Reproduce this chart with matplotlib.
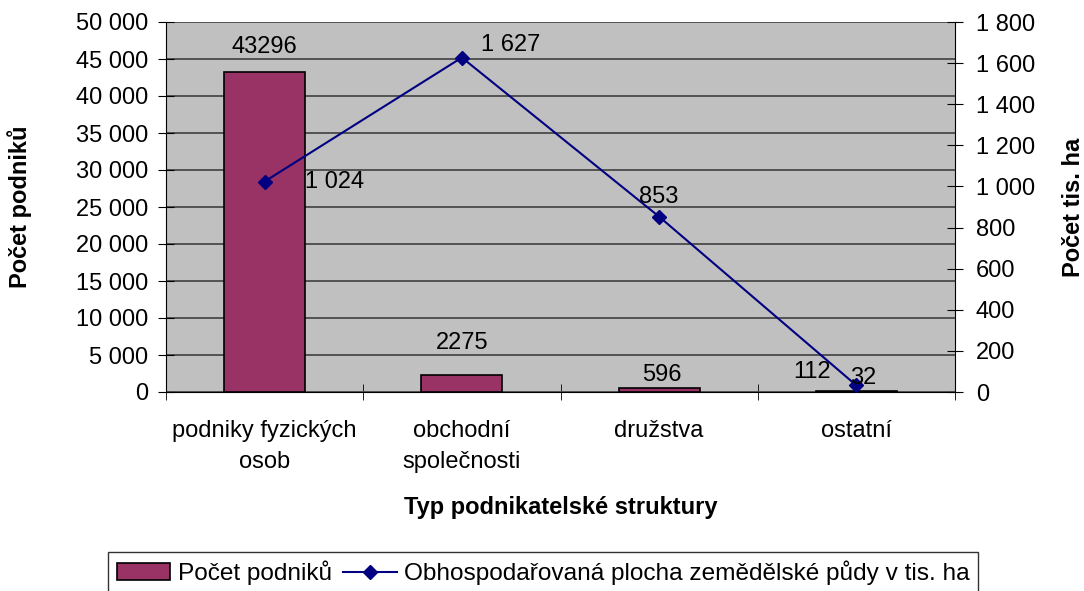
import matplotlib.pyplot as plt
from matplotlib.ticker import FuncFormatter
import numpy as np

plt.rcParams['font.family'] = ['Liberation Sans', 'DejaVu Sans']

# Data
categories = ['podniky fyzických\nosob', 'obchodní\nspolečnosti', 'družstva', 'ostatní']
podniky = [43296, 2275, 596, 112]
plocha = [1024, 1627, 853, 32]
plocha_labels = ['1 024', '1 627', '853', '32']

FS = 17

def space_fmt(v, pos):
    return '{:,}'.format(int(v)).replace(',', ' ')

fig = plt.figure(figsize=(10.84, 5.91), dpi=100)
ax = fig.add_axes([166 / 1084, 1 - 392 / 591, (955 - 166) / 1084, (392 - 22) / 591])
ax.set_facecolor('#c0c0c0')

x = np.arange(len(categories))
bars = ax.bar(x, podniky, width=0.41, color='#993366', edgecolor='black', linewidth=1.2,
              label='Počet podniků', zorder=3)
# bar labels (offsets in points, as placed in the original)
bar_off = [(0, 9.5), (0, 15), (2, 1.5), (-32, 6)]
for xi, v, off in zip(x, podniky, bar_off):
    ax.annotate(str(v), (xi, v), xytext=off, textcoords='offset points',
                ha='center', va='bottom', fontsize=FS)

ax.set_xlim(-0.5, len(categories) - 0.5)
ax.set_ylim(0, 50000)
ax.set_yticks(np.arange(0, 50001, 5000))
ax.yaxis.set_major_formatter(FuncFormatter(space_fmt))
ax.grid(axis='y', color='#4a4a4a', linewidth=1.3, zorder=0)
ax.set_axisbelow(True)
ax.set_xticks(x)
ax.set_xticklabels(categories, fontsize=FS, linespacing=1.55)
ax.set_xticks(np.arange(-0.5, len(categories)), minor=True)
ax.tick_params(axis='x', which='major', length=0, pad=20)
ax.tick_params(axis='x', which='minor', length=12, direction='inout', color='black')
ax.tick_params(axis='y', labelsize=FS, direction='inout', length=12, color='black', pad=7)
for s in ['top', 'right']:
    ax.spines[s].set_visible(False)
ax.spines['left'].set_color('black')
ax.spines['bottom'].set_color('black')
ax.set_ylabel('Počet podniků', fontsize=17, fontweight='bold')
ax.yaxis.set_label_coords(-0.185, 0.5)
ax.yaxis.label.set_va('center')
ax.set_xlabel('Typ podnikatelské struktury', fontsize=17, fontweight='bold')
ax.xaxis.set_label_coords(0.5, -0.311)
ax.xaxis.label.set_va('center')

ax2 = ax.twinx()
line, = ax2.plot(x, plocha, color='#000080', marker='D', markersize=7, linewidth=1.5,
                 label='Obhospodařovaná plocha zemědělské půdy v tis. ha', zorder=4)
ax2.set_ylim(0, 1800)
ax2.set_yticks(np.arange(0, 1801, 200))
ax2.yaxis.set_major_formatter(FuncFormatter(space_fmt))
ax2.tick_params(axis='y', labelsize=FS, direction='inout', length=12, color='black', pad=9)
for s in ['top', 'left', 'bottom']:
    ax2.spines[s].set_visible(False)
ax2.spines['right'].set_color('black')
ax2.set_ylabel('Počet tis. ha', fontsize=17, fontweight='bold')
ax2.yaxis.set_label_coords(1.1496, 0.5)
ax2.yaxis.label.set_va('center')

line_off = [(29, 0), (14, 9), (0, 14), (5, 5.5)]
line_ha = ['left', 'left', 'center', 'center']
for xi, v, lab, off, ha in zip(x, plocha, plocha_labels, line_off, line_ha):
    ax2.annotate(lab, (xi, v), xytext=off, textcoords='offset points',
                 ha=ha, va='center', fontsize=FS, zorder=5)

leg = fig.legend([bars, line], [bars.get_label(), line.get_label()],
                 loc='upper left', bbox_to_anchor=(108 / 1084, 1 - 552 / 591),
                 borderaxespad=0, ncol=2, fontsize=17.6, frameon=True, fancybox=False,
                 handlelength=2.2, columnspacing=0.45, handletextpad=0.3, borderpad=0.35)
leg.get_frame().set_edgecolor('black')
leg.get_frame().set_linewidth(1.0)

fig.savefig('out.png', dpi=100)
